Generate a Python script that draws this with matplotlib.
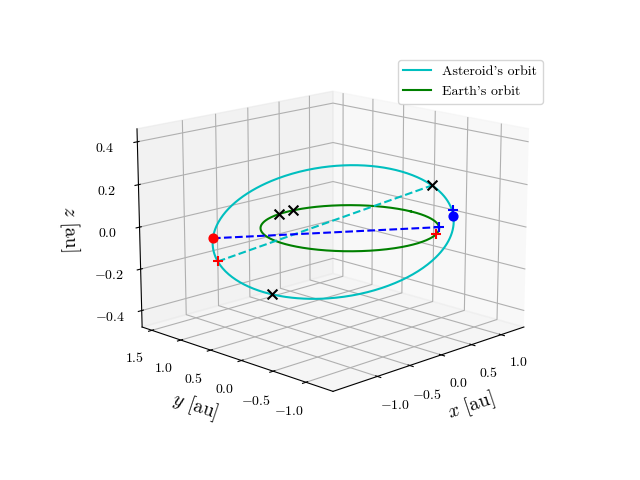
import numpy as np
import matplotlib
matplotlib.use("Agg")
import matplotlib.pyplot as plt

plt.rcParams['font.family'] = 'cmr10'
plt.rcParams['mathtext.fontset'] = 'cm'
plt.rcParams['axes.formatter.use_mathtext'] = True

# orbital elements (a, e, inclination, node, argument of perihelion)
ast_a, ast_e, ast_inc, ast_node, ast_w = 1.35, 0.14, np.radians(7.5), np.radians(-62), np.radians(16)
earth_r = 1.0

# true anomalies (deg) of marked asteroid positions
red_dot_nu = [180]
blue_dot_nu = [3]
red_plus_nu = [198]
black_x_nu = [38, 235]
# marked Earth positions (angle deg on circle)
red_plus_earth = [-62]
black_x_earth = [86, 99]
blue_plus_earth = [-45]
blue_plus_offset = [(0.0, 0.0, 0.03)]

def orbit(a, e, inc, node, w, nu_deg):
    nu = np.radians(np.asarray(nu_deg, float))
    r = a*(1-e**2)/(1+e*np.cos(nu))
    xo, yo = r*np.cos(nu+w), r*np.sin(nu+w)
    x1, y1, z1 = xo, yo*np.cos(inc), yo*np.sin(inc)
    return (x1*np.cos(node)-y1*np.sin(node), x1*np.sin(node)+y1*np.cos(node), z1)

def earth(deg):
    t = np.radians(np.asarray(deg, float))
    return earth_r*np.cos(t), earth_r*np.sin(t), 0*t

full = np.linspace(0, 360, 400)
A = orbit(ast_a, ast_e, ast_inc, ast_node, ast_w, full)
E = earth(full)

fig = plt.figure(figsize=(6.4, 4.8))
fig.subplots_adjust(bottom=0.127, top=0.897)
ax = fig.add_subplot(projection='3d')
ax.plot(*A, 'c', label="Asteroid's orbit")
ax.plot(*E, 'g', label="Earth's orbit")
rp = orbit(ast_a, ast_e, ast_inc, ast_node, ast_w, red_plus_nu)
bx = orbit(ast_a, ast_e, ast_inc, ast_node, ast_w, black_x_nu)
rd = orbit(ast_a, ast_e, ast_inc, ast_node, ast_w, red_dot_nu)
bd = orbit(ast_a, ast_e, ast_inc, ast_node, ast_w, blue_dot_nu)
rpe = earth(red_plus_earth)
bxe = earth(black_x_earth)
bpe = earth(blue_plus_earth)
bpa = (bd[0] + blue_plus_offset[0][0], bd[1] + blue_plus_offset[0][1], bd[2] + blue_plus_offset[0][2])
ax.plot([rp[0][0], bx[0][0]], [rp[1][0], bx[1][0]], [rp[2][0], bx[2][0]], 'c--')
ax.plot([rd[0][0], bpe[0][0]], [rd[1][0], bpe[1][0]], [rd[2][0], bpe[2][0]], 'b--')
ax.scatter(*rd, color='r', s=40, depthshade=False)
ax.scatter(*bd, color='b', s=40, depthshade=False)
ax.scatter(*rp, color='r', marker='+', s=60, depthshade=False)
ax.scatter(*rpe, color='r', marker='+', s=60, depthshade=False)
ax.scatter(*bpe, color='b', marker='+', s=60, depthshade=False)
ax.scatter(*bpa, color='b', marker='+', s=60, depthshade=False)
ax.scatter(*bx, color='k', marker='x', s=50, depthshade=False)
ax.scatter(*bxe, color='k', marker='x', s=50, depthshade=False)
ax.set_xlabel('$x$ [au]', fontsize=14)
ax.set_ylabel('$y$ [au]', fontsize=14)
ax.set_zlabel('$z$ [au]', fontsize=14)
ax.set_xticks([-1.0, -0.5, 0.0, 0.5, 1.0])
ax.set_yticks([-1.0, -0.5, 0.0, 0.5, 1.0, 1.5])
ax.set_zticks([-0.4, -0.2, 0, 0.2, 0.4])
ax.set_zlim(-0.48, 0.46)
ax.set_box_aspect(None, zoom=1.15)
ax.view_init(elev=15, azim=-135)
ax.legend(loc='upper right', bbox_to_anchor=(1.1, 0.99))
fig.savefig('out.png', dpi=100)
